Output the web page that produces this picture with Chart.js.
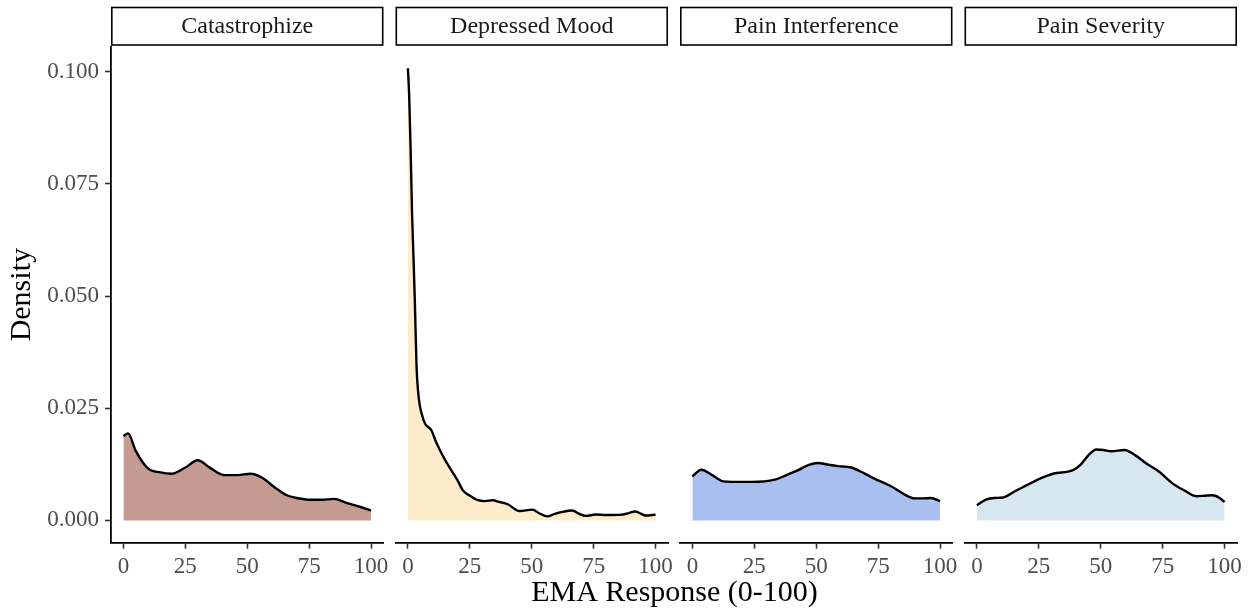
<!DOCTYPE html>
<html>
<head>
<meta charset="utf-8">
<script src="https://cdn.jsdelivr.net/npm/chart.js@4.4.0/dist/chart.umd.min.js"></script>
<style>
  body { margin: 0; background: #fff; }
  #wrap { position: relative; width: 1250px; height: 611px; }
  #wrap canvas { position: absolute; left: 0; top: 0; }
</style>
</head>
<body>
<div id="wrap">
  <canvas id="c0" width="1250" height="611"></canvas>
  <canvas id="c1" width="1250" height="611"></canvas>
  <canvas id="c2" width="1250" height="611"></canvas>
  <canvas id="c3" width="1250" height="611"></canvas>
</div>
<script>
// facet names and fills
var panels = ['Catastrophize', 'Depressed Mood', 'Pain Interference', 'Pain Severity'];
var fills = ['#C49A91', '#FDEBCB', '#A8BFF0', '#D6E7EF'];

// density curves (x = EMA response, y = density)
var catX = [0, 1.9, 5, 9.9, 15, 19.3, 25, 30, 35, 40.7, 46, 51.4, 56, 61, 66, 70, 75.5, 80, 85, 90, 95, 100];
var catY = [0.0188, 0.0194, 0.0155, 0.0116, 0.0107, 0.0104, 0.0118, 0.0134, 0.0117, 0.0101, 0.0101, 0.0104, 0.0095, 0.0074, 0.0056, 0.005, 0.0046, 0.0046, 0.0048, 0.0039, 0.0031, 0.0022];

var depX = [0, 0.5, 1.1, 1.7, 2.3, 2.8, 3.5, 4.5, 5.5, 7, 9.5, 11, 12.9, 15, 17.5, 20, 22.2, 25, 28.2, 31, 34.3, 37, 40.3, 45, 50.3, 53, 56.3, 59, 62.4, 66.4, 69, 71.8, 75.8, 80, 86.5, 89, 91.8, 94, 95.9, 100];
var depY = [0.1008, 0.095, 0.083, 0.068, 0.058, 0.049, 0.0343, 0.0268, 0.0239, 0.0215, 0.0201, 0.018, 0.0157, 0.0135, 0.0112, 0.009, 0.0067, 0.0055, 0.0045, 0.0043, 0.0045, 0.0041, 0.0036, 0.0021, 0.0024, 0.0016, 0.0009, 0.0014, 0.0019, 0.0022, 0.0015, 0.001, 0.0013, 0.0012, 0.0013, 0.0016, 0.002, 0.0015, 0.0011, 0.0013];

var intX = [0, 3.6, 8, 12.6, 18, 24, 33.3, 38, 42.7, 47, 50.7, 55, 58.8, 64.1, 69, 73.5, 80.2, 85, 89.6, 93, 96.3, 100];
var intY = [0.0098, 0.0113, 0.0101, 0.0087, 0.0086, 0.0086, 0.0091, 0.0101, 0.0112, 0.0124, 0.0128, 0.0124, 0.0121, 0.0118, 0.0106, 0.0093, 0.0076, 0.006, 0.0049, 0.0049, 0.005, 0.0043];

var sevX = [0, 3.9, 7, 10.6, 15, 20, 25, 30.7, 38.8, 42, 45, 48.2, 51, 54.3, 59.6, 64, 68.4, 73.7, 79.1, 84, 88.5, 92, 95.2, 98, 100];
var sevY = [0.0034, 0.0047, 0.005, 0.0051, 0.0064, 0.0078, 0.0092, 0.0104, 0.0112, 0.0125, 0.0145, 0.0158, 0.0157, 0.0154, 0.0157, 0.0145, 0.0127, 0.0108, 0.0082, 0.0066, 0.0054, 0.0055, 0.0056, 0.005, 0.0041];

var xTicks = [0, 25, 50, 75, 100];
var yTicks = [0, 0.025, 0.05, 0.075, 0.1];

var seriesX = [catX, depX, intX, sevX];
var seriesY = [catY, depY, intY, sevY];

// panel geometry (pixels)
var panelLeft = [111, 395.5, 680, 964.5];
var panelWidth = 272.5;
var panelTop = 46.7;
var panelBottom = 542.7;
var xAxisH = 40;
var serif = "'Liberation Serif', 'DejaVu Serif', serif";

// strip label box above each panel
var stripPlugin = {
  id: 'strip',
  afterDraw: function (chart, args, opts) {
    var ctx = chart.ctx;
    var a = chart.chartArea;
    ctx.save();
    ctx.fillStyle = '#fff';
    ctx.fillRect(a.left, 7.5, a.right - a.left, 37.5);
    ctx.strokeStyle = '#000';
    ctx.lineWidth = 1.6;
    ctx.strokeRect(a.left + 0.8, 7.5, a.right - a.left - 1.6, 37.5);
    ctx.fillStyle = '#1A1A1A';
    ctx.font = '24px ' + serif;
    ctx.textAlign = 'center';
    ctx.textBaseline = 'middle';
    ctx.fillText(opts.label, (a.left + a.right) / 2, 27);
    if (opts.xtitle) {
      ctx.fillStyle = '#000';
      ctx.font = '30px ' + serif;
      ctx.fillText(opts.xtitle, 674.5, 593);
    }
    ctx.restore();
  }
};

for (var i = 0; i < 4; i++) {
  var pts = seriesX[i].map(function (x, k) { return { x: x, y: seriesY[i][k] }; });
  var first = (i === 0);
  var yW = first ? 111 : 0;
  new Chart(document.getElementById('c' + i), {
    type: 'line',
    data: {
      datasets: [{
        data: pts,
        borderColor: '#000',
        borderWidth: 2.4,
        backgroundColor: fills[i],
        fill: 'origin',
        pointRadius: 0,
        cubicInterpolationMode: 'monotone'
      }]
    },
    plugins: [stripPlugin],
    options: {
      responsive: false,
      animation: false,
      devicePixelRatio: 1,
      layout: {
        padding: {
          left: first ? 0 : panelLeft[i],
          right: 1250 - panelLeft[i] - panelWidth,
          top: panelTop,
          bottom: 611 - panelBottom - xAxisH
        }
      },
      plugins: {
        legend: { display: false },
        tooltip: { enabled: false },
        strip: { label: panels[i], xtitle: first ? 'EMA Response (0-100)' : null }
      },
      scales: {
        x: {
          type: 'linear',
          min: -5,
          max: 105,
          afterBuildTicks: function (s) { s.ticks = xTicks.map(function (v) { return { value: v }; }); },
          afterFit: function (s) { s.height = xAxisH; },
          grid: { drawOnChartArea: false, drawTicks: true, tickLength: 6, tickWidth: 1.6, color: '#333' },
          border: { display: true, color: '#000', width: 1.8 },
          ticks: {
            color: '#4D4D4D',
            font: { family: serif, size: 23 },
            padding: 4,
            maxRotation: 0,
            autoSkip: false
          }
        },
        y: {
          display: first,
          min: -0.00497,
          max: 0.1056,
          afterBuildTicks: function (s) { s.ticks = yTicks.map(function (v) { return { value: v }; }); },
          afterFit: function (s) { s.width = yW; },
          grid: { drawOnChartArea: false, drawTicks: true, tickLength: 6, tickWidth: 1.6, color: '#333' },
          border: { display: true, color: '#000', width: 1.8 },
          title: {
            display: true,
            text: 'Density',
            color: '#000',
            font: { family: serif, size: 30 },
            padding: { top: 4, bottom: 0 }
          },
          ticks: {
            color: '#4D4D4D',
            font: { family: serif, size: 23 },
            padding: 6,
            callback: function (v) { return v.toFixed(3); }
          }
        }
      }
    }
  });
}
</script>
</body>
</html>
